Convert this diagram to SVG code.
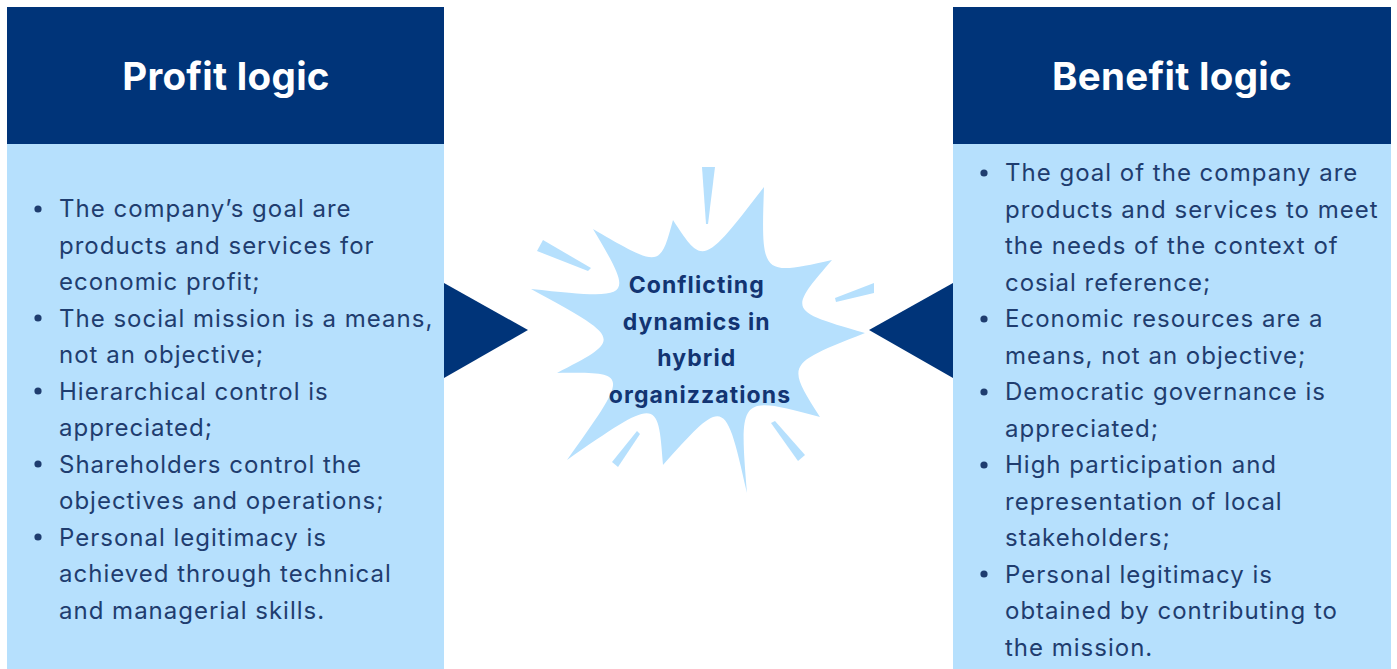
<svg xmlns="http://www.w3.org/2000/svg" width="1397" height="669" viewBox="0 0 1397 669">
  <style>
    .hdr { fill: #003479; }
    .body { fill: #b6e0fd; }
    .title { font-family: Inter, "Liberation Sans", sans-serif; font-weight: 700; font-size: 38.5px; letter-spacing: 0.3px; fill: #ffffff; text-anchor: middle; }
    .item { font-family: Inter, "Liberation Sans", sans-serif; font-size: 24px; letter-spacing: 1px; fill: #1f3d6f; }
    .dot { fill: #1f3d6f; }
    .arrow { fill: #003479; }
    .splash { fill: #b6e0fd; }
    .center { font-family: Inter, "Liberation Sans", sans-serif; font-weight: 700; font-size: 23px; letter-spacing: 1.1px; fill: #123472; text-anchor: middle; }
  </style>

  <rect width="1397" height="669" fill="#ffffff"/>

  <!-- Left panel: profit logic -->
  <g id="profit-logic">
    <rect class="body" x="7" y="144" width="437" height="525"/>
    <rect class="hdr" x="7" y="7" width="437" height="137"/>
    <text class="title" x="226" y="90">Profit logic</text>
    <g>
      <circle class="dot" cx="38" cy="209" r="3.6"/>
      <circle class="dot" cx="38" cy="318" r="3.6"/>
      <circle class="dot" cx="38" cy="391" r="3.6"/>
      <circle class="dot" cx="38" cy="464" r="3.6"/>
      <circle class="dot" cx="38" cy="537" r="3.6"/>
    </g>
    <text class="item" x="59">
      <tspan x="59" y="217">The company’s goal are</tspan>
      <tspan x="59" y="253.5">products and services for</tspan>
      <tspan x="59" y="290">economic profit;</tspan>
      <tspan x="59" y="326.5">The social mission is a means,</tspan>
      <tspan x="59" y="363">not an objective;</tspan>
      <tspan x="59" y="399.5">Hierarchical control is</tspan>
      <tspan x="59" y="436">appreciated;</tspan>
      <tspan x="59" y="472.5">Shareholders control the</tspan>
      <tspan x="59" y="509">objectives and operations;</tspan>
      <tspan x="59" y="545.5">Personal legitimacy is</tspan>
      <tspan x="59" y="582">achieved through technical</tspan>
      <tspan x="59" y="618.5">and managerial skills.</tspan>
    </text>
  </g>

  <!-- Right panel: benefit logic -->
  <g id="benefit-logic">
    <rect class="body" x="953" y="144" width="438" height="525"/>
    <rect class="hdr" x="953" y="7" width="438" height="137"/>
    <text class="title" x="1172" y="90">Benefit logic</text>
    <g>
      <circle class="dot" cx="984" cy="173" r="3.6"/>
      <circle class="dot" cx="984" cy="319" r="3.6"/>
      <circle class="dot" cx="984" cy="392" r="3.6"/>
      <circle class="dot" cx="984" cy="465" r="3.6"/>
      <circle class="dot" cx="984" cy="574" r="3.6"/>
    </g>
    <text class="item" x="1005">
      <tspan x="1005" y="181">The goal of the company are</tspan>
      <tspan x="1005" y="217.5">products and services to meet</tspan>
      <tspan x="1005" y="254">the needs of the context of</tspan>
      <tspan x="1005" y="290.5">cosial reference;</tspan>
      <tspan x="1005" y="327">Economic resources are a</tspan>
      <tspan x="1005" y="363.5">means, not an objective;</tspan>
      <tspan x="1005" y="400">Democratic governance is</tspan>
      <tspan x="1005" y="436.5">appreciated;</tspan>
      <tspan x="1005" y="473">High participation and</tspan>
      <tspan x="1005" y="509.5">representation of local</tspan>
      <tspan x="1005" y="546">stakeholders;</tspan>
      <tspan x="1005" y="582.5">Personal legitimacy is</tspan>
      <tspan x="1005" y="619">obtained by contributing to</tspan>
      <tspan x="1005" y="655.5">the mission.</tspan>
    </text>
  </g>

  <!-- Central burst -->
  <g id="conflict">
    <path class="splash" d="M673,220 C703,266 703,266 764,187 C761,276 761,276 832,260 C788,311 788,311 865,333 C786,364 786,364 820,417 C739,395 739,395 747,493 C725,396 725,396 663,465 C658,397 658,397 567,460 C630,372 630,372 557,373 C623,339 623,339 531,289 C635,300 635,300 593,229 C660,268 660,268 673,220 Z"/>
    <!-- loose shards around the burst -->
    <path class="splash" d="M702,167 L715,167 L708,224 L706,224 Z"/>
    <path class="splash" d="M543,240 L537,251 L588,271 L591,268 Z"/>
    <path class="splash" d="M874,283 L874,293 L836,302 L835,298 Z"/>
    <path class="splash" d="M637,431 L640,434 L618,467 L612,462 Z"/>
    <path class="splash" d="M771,423 L775,421 L805,455 L798,461 Z"/>
    <text class="center">
      <tspan x="700" y="293">Conflicting</tspan>
      <tspan x="700" y="329.5">dynamics in</tspan>
      <tspan x="700" y="366">hybrid</tspan>
      <tspan x="700" y="402.5">organizzations</tspan>
    </text>
  </g>

  <!-- Connectors pointing into the burst -->
  <g id="connectors">
    <polygon class="arrow" points="444,283 444,378 528,330"/>
    <polygon class="arrow" points="953,283 953,378 869,330"/>
  </g>
</svg>
